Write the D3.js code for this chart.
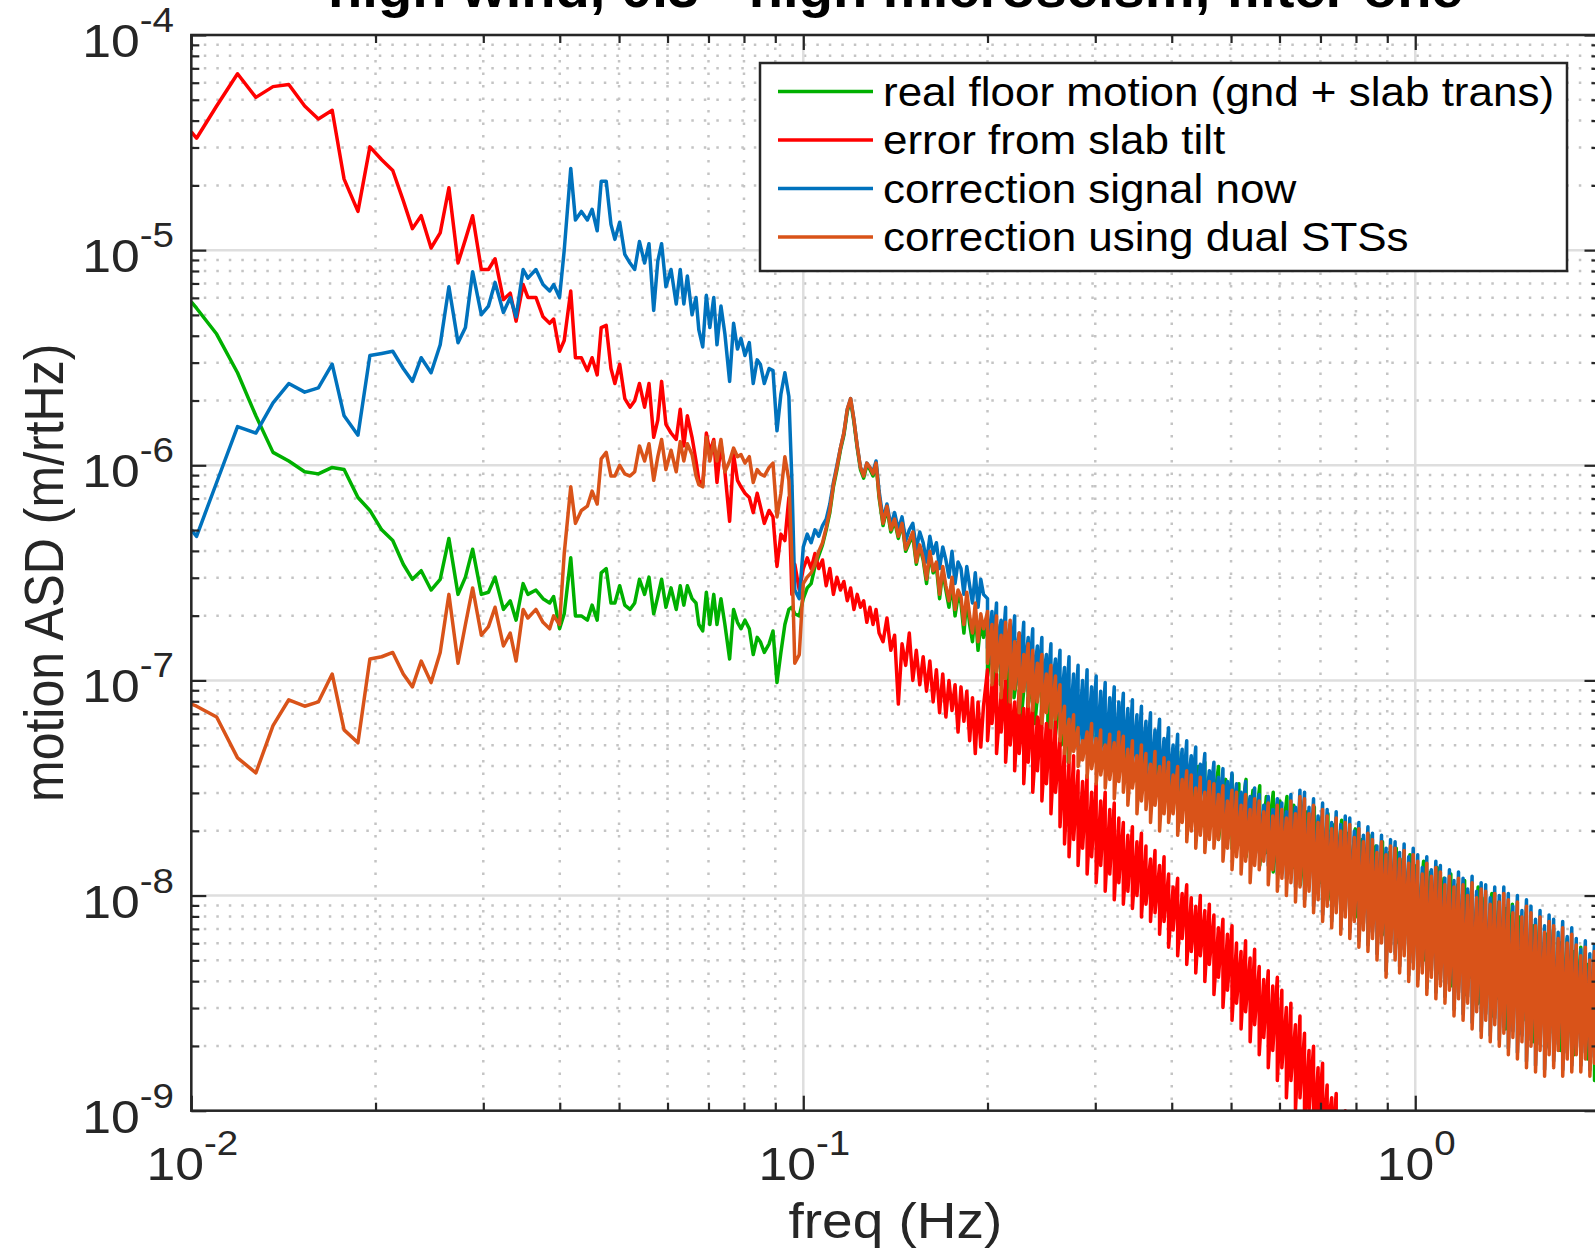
<!DOCTYPE html>
<html>
<head>
<meta charset="utf-8">
<script src="https://cdn.jsdelivr.net/npm/d3@7/dist/d3.min.js"></script>
<style>
  body { margin: 0; background: #fff; }
  svg { display: block; }
  text { font-family: "Liberation Sans", Arial, Helvetica, sans-serif; fill: #262626; }
</style>
</head>
<body>
<script>
'use strict';

// ---- data (values are log10 of ASD in m/rtHz) ----
const seriesNames = ['real floor motion (gnd + slab trans)', 'error from slab tilt',
                     'correction signal now', 'correction using dual STSs'];
const seriesColors = ['#00b000', '#ff0000', '#0072bd', '#d95319'];
const titleText = 'high wind, 0.3 - high microseism, filter one';
const xTickExp = [-2, -1, 0];
const yTickExp = [-9, -8, -7, -6, -5, -4];

// low band, one point per visible bin
const freqLow = [0.0100,0.0102,0.0110,0.0119,0.01275,0.0136,0.01443,0.01532,0.01613,0.01699,
  0.01777,0.01872,0.01958,0.02047,0.02134,0.0222,0.02298,0.02375,0.02465,0.02551,
  0.02636,0.02728,0.02805,0.02882,0.02978,0.03059,0.03136,0.03236,0.0332,0.03394,
  0.03485,0.03548,0.03657,0.03756,0.03851,0.03909,0.03997,0.04068,0.04169,0.04243,
  0.04339,0.04438,0.04518,0.04605,0.04675,0.04764,0.0485,0.04922,0.05012,0.05109,
  0.0521,0.05303,0.05399,0.05504,0.05596,0.05696,0.05785,0.05868,0.05964,0.0608,
  0.062,0.06294,0.0638,0.06465,0.0658,0.06679,0.0675,0.0685,0.06944,0.07036,
  0.0714,0.07227,0.07336,0.07446,0.07579,0.07693,0.07806,0.0791,0.0803,0.08162,
  0.08283,0.08407,0.08508,0.08636,0.08793,0.08923,0.09058,0.09192,0.09331,0.09472,
  0.0958,0.09685];

const greenLow = [-5.24,-5.27,-5.39,-5.57,-5.77,-5.94,-5.98,-6.03,-6.04,-6.01,
  -6.02,-6.15,-6.21,-6.30,-6.35,-6.46,-6.53,-6.49,-6.58,-6.53,
  -6.34,-6.60,-6.52,-6.39,-6.60,-6.59,-6.52,-6.67,-6.63,-6.72,
  -6.55,-6.60,-6.58,-6.62,-6.64,-6.61,-6.76,-6.69,-6.43,-6.70,
  -6.70,-6.72,-6.65,-6.72,-6.50,-6.48,-6.64,-6.64,-6.56,-6.65,
  -6.67,-6.64,-6.53,-6.60,-6.52,-6.69,-6.61,-6.53,-6.66,-6.57,
  -6.67,-6.56,-6.65,-6.56,-6.62,-6.64,-6.74,-6.77,-6.59,-6.74,
  -6.60,-6.74,-6.62,-6.74,-6.90,-6.67,-6.73,-6.76,-6.72,-6.76,
  -6.88,-6.80,-6.82,-6.87,-6.83,-6.77,-7.01,-6.87,-6.74,-6.67,
  -6.66,-6.69];

const redLow = [-4.45,-4.48,-4.33,-4.18,-4.29,-4.24,-4.23,-4.33,-4.39,-4.35,
  -4.67,-4.82,-4.52,-4.58,-4.63,-4.77,-4.90,-4.84,-4.99,-4.92,
  -4.71,-5.06,-4.95,-4.84,-5.09,-5.09,-5.04,-5.23,-5.20,-5.33,
  -5.16,-5.22,-5.22,-5.31,-5.34,-5.32,-5.47,-5.42,-5.19,-5.50,
  -5.50,-5.56,-5.50,-5.58,-5.36,-5.35,-5.55,-5.62,-5.53,-5.69,
  -5.73,-5.70,-5.62,-5.73,-5.62,-5.87,-5.79,-5.61,-5.81,-5.85,
  -5.88,-5.74,-5.91,-5.77,-5.87,-5.98,-6.07,-6.09,-5.85,-5.94,
  -5.88,-6.08,-5.90,-6.03,-6.26,-5.95,-6.07,-6.10,-6.13,-6.15,
  -6.22,-6.13,-6.19,-6.27,-6.21,-6.24,-6.47,-6.32,-6.35,-6.15,
  -6.60,-6.46];

const blueLow = [-6.30,-6.33,-6.08,-5.82,-5.85,-5.71,-5.62,-5.66,-5.64,-5.53,
  -5.77,-5.86,-5.49,-5.48,-5.47,-5.55,-5.61,-5.50,-5.57,-5.44,
  -5.17,-5.43,-5.36,-5.10,-5.30,-5.26,-5.15,-5.29,-5.22,-5.31,
  -5.09,-5.13,-5.09,-5.16,-5.19,-5.16,-5.22,-5.00,-4.62,-4.86,
  -4.82,-4.86,-4.81,-4.91,-4.68,-4.68,-4.88,-4.95,-4.87,-5.02,
  -5.06,-5.09,-4.96,-5.06,-4.97,-5.28,-5.05,-4.97,-5.17,-5.09,
  -5.25,-5.09,-5.25,-5.12,-5.30,-5.22,-5.37,-5.45,-5.21,-5.36,
  -5.22,-5.44,-5.26,-5.39,-5.61,-5.34,-5.46,-5.41,-5.49,-5.43,
  -5.62,-5.51,-5.53,-5.62,-5.55,-5.56,-5.84,-5.67,-5.57,-5.68,
  -6.07,-6.58];

const orangeLow = [-7.11,-7.12,-7.17,-7.36,-7.43,-7.21,-7.09,-7.12,-7.10,-6.97,
  -7.23,-7.29,-6.90,-6.89,-6.87,-6.97,-7.03,-6.91,-7.01,-6.87,
  -6.60,-6.92,-6.74,-6.57,-6.79,-6.75,-6.66,-6.84,-6.78,-6.91,
  -6.67,-6.71,-6.67,-6.73,-6.76,-6.70,-6.74,-6.41,-6.10,-6.27,
  -6.21,-6.19,-6.12,-6.18,-5.97,-5.94,-6.05,-6.05,-6.00,-6.04,
  -6.05,-6.03,-5.91,-5.98,-5.90,-6.07,-5.96,-5.88,-6.02,-5.93,
  -6.03,-5.89,-5.98,-5.90,-5.95,-6.05,-6.09,-6.10,-5.87,-5.98,
  -5.89,-5.98,-5.88,-6.03,-5.98,-5.92,-5.96,-5.95,-5.99,-5.96,
  -6.08,-6.02,-6.04,-6.05,-6.01,-5.99,-6.24,-6.13,-5.96,-6.07,
  -6.43,-6.92];

// mid band (microseism peak)
const freqMid = [0.0985,0.1,0.1015,0.103,0.1045,0.106,0.1075,0.109,0.1105,0.112,
  0.1135,0.115,0.1165,0.118,0.1195,0.121,0.1225,0.124,0.1255,0.127,
  0.1285,0.13,0.1315,0.133,0.135,0.137,0.139,0.141,0.143,0.145,
  0.147,0.149,0.151,0.153,0.155,0.157,0.159,0.161,0.163,0.165,
  0.167,0.169,0.171,0.173,0.175,0.177,0.179,0.181,0.183,0.185,
  0.187,0.189,0.191,0.193,0.195,0.197];

const greenMid = [-6.70,-6.62,-6.57,-6.55,-6.47,-6.42,-6.37,-6.30,-6.22,-6.10,
  -6.02,-5.93,-5.86,-5.75,-5.70,-5.80,-5.92,-6.02,-6.06,-6.00,
  -6.02,-6.05,-5.99,-6.15,-6.28,-6.20,-6.31,-6.26,-6.34,-6.27,
  -6.40,-6.36,-6.33,-6.46,-6.38,-6.44,-6.55,-6.41,-6.50,-6.47,
  -6.62,-6.49,-6.58,-6.66,-6.55,-6.70,-6.61,-6.64,-6.78,-6.62,
  -6.74,-6.82,-6.68,-6.86,-6.73,-6.80];

const redMid = [-6.58,-6.48,-6.43,-6.48,-6.41,-6.48,-6.44,-6.56,-6.48,-6.60,
  -6.52,-6.58,-6.54,-6.63,-6.57,-6.67,-6.60,-6.66,-6.63,-6.73,
  -6.66,-6.74,-6.67,-6.78,-6.82,-6.71,-6.86,-6.79,-7.11,-6.83,
  -6.93,-6.78,-7.00,-6.86,-7.02,-6.89,-7.05,-6.91,-7.10,-6.95,
  -7.15,-6.97,-7.17,-7.00,-7.14,-7.02,-7.24,-7.03,-7.19,-7.05,
  -7.28,-7.08,-7.34,-7.10,-7.31,-7.12];

const blueMid = [-6.62,-6.38,-6.32,-6.36,-6.30,-6.33,-6.28,-6.25,-6.18,-6.08,
  -6.00,-5.92,-5.85,-5.74,-5.69,-5.79,-5.91,-6.01,-6.04,-5.99,
  -6.01,-6.03,-5.98,-6.12,-6.25,-6.18,-6.28,-6.22,-6.30,-6.24,
  -6.35,-6.30,-6.27,-6.39,-6.31,-6.36,-6.45,-6.33,-6.41,-6.36,
  -6.48,-6.38,-6.44,-6.52,-6.40,-6.55,-6.45,-6.48,-6.60,-6.47,
  -6.56,-6.64,-6.50,-6.66,-6.53,-6.60];

const orangeMid = [-6.88,-6.55,-6.52,-6.50,-6.46,-6.40,-6.36,-6.29,-6.21,-6.09,
  -6.01,-5.92,-5.85,-5.74,-5.69,-5.79,-5.91,-6.01,-6.05,-5.99,
  -6.01,-6.04,-5.99,-6.14,-6.27,-6.19,-6.30,-6.25,-6.33,-6.27,
  -6.39,-6.35,-6.31,-6.45,-6.37,-6.43,-6.53,-6.40,-6.49,-6.45,
  -6.60,-6.47,-6.56,-6.63,-6.52,-6.67,-6.58,-6.61,-6.74,-6.59,
  -6.70,-6.78,-6.64,-6.82,-6.69,-6.76];

// high band: noisy, kept as top / bottom of each group of bins
const freqHi = [0.2,0.2034,0.2069,0.2105,0.2141,0.2178,0.2215,0.2253,0.2292,0.2331,
  0.2371,0.2413,0.2454,0.2496,0.2539,0.2583,0.2627,0.2672,0.2718,0.2765,
  0.2812,0.286,0.2909,0.2959,0.301,0.3062,0.3114,0.3168,0.3222,0.3278,
  0.3334,0.3391,0.345,0.3509,0.3569,0.363,0.3693,0.3756,0.3821,0.3886,
  0.3953,0.4021,0.409,0.416,0.4232,0.4305,0.4378,0.4454,0.453,0.4608,
  0.4688,0.4768,0.485,0.4933,0.5018,0.5104,0.5192,0.5281,0.5372,0.5464,
  0.5559,0.5654,0.5751,0.585,0.5951,0.6053,0.6157,0.6263,0.6371,0.648,
  0.6592,0.6705,0.682,0.6937,0.7056,0.7178,0.7301,0.7427,0.7554,0.7684,
  0.7816,0.7951,0.8088,0.8227,0.8368,0.8512,0.8658,0.8807,0.8958,0.9112,
  0.9269,0.9428,0.959,0.9755,0.9923,1.0093,1.0267,1.0443,1.0623,1.0805,
  1.0991,1.118,1.1372,1.1568,1.1767,1.1969,1.2175,1.2384,1.2597,1.2814,
  1.3033,1.3257,1.3485,1.3717,1.3953,1.4193,1.4437,1.4685,1.4938,1.5195,
  1.5455,1.5721,1.5991,1.6266,1.6546,1.683,1.712,1.7414,1.7713,1.8018,
  1.8326,1.8641,1.8962,1.9288,1.9619,1.9956,2.0299];

const orangeHiTop = [-6.68,-6.74,-6.70,-6.79,-6.73,-6.72,-6.82,-6.78,-6.88,-6.83,
  -6.86,-6.92,-6.88,-6.97,-6.93,-6.98,-7.02,-7.12,-7.18,-7.16,
  -7.22,-7.28,-7.24,-7.20,-7.27,-7.23,-7.30,-7.25,-7.29,-7.24,
  -7.26,-7.32,-7.28,-7.35,-7.30,-7.34,-7.39,-7.33,-7.40,-7.36,
  -7.38,-7.44,-7.40,-7.46,-7.42,-7.44,-7.50,-7.45,-7.52,-7.47,
  -7.48,-7.53,-7.49,-7.56,-7.51,-7.52,-7.58,-7.53,-7.60,-7.55,
  -7.56,-7.61,-7.57,-7.63,-7.58,-7.60,-7.64,-7.56,-7.62,-7.54,
  -7.55,-7.62,-7.58,-7.66,-7.60,-7.63,-7.69,-7.64,-7.70,-7.66,
  -7.67,-7.73,-7.69,-7.75,-7.71,-7.74,-7.80,-7.75,-7.81,-7.77,
  -7.78,-7.83,-7.79,-7.85,-7.81,-7.84,-7.90,-7.85,-7.91,-7.87,
  -7.89,-7.95,-7.91,-7.96,-7.92,-7.95,-8.00,-7.94,-8.01,-7.97,
  -7.98,-8.04,-7.99,-8.03,-7.99,-8.02,-8.08,-8.03,-8.10,-8.05,
  -8.08,-8.14,-8.10,-8.17,-8.12,-8.14,-8.20,-8.15,-8.22,-8.18,
  -8.23,-8.28,-8.24,-8.30,-8.26,-8.30,-8.34];
const orangeHiBot = [-6.92,-7.02,-6.96,-7.08,-6.99,-7.10,-7.04,-7.15,-7.05,-7.12,
  -7.14,-7.10,-7.20,-7.15,-7.22,-7.18,-7.28,-7.34,-7.38,-7.33,
  -7.40,-7.37,-7.45,-7.41,-7.48,-7.44,-7.50,-7.46,-7.55,-7.47,
  -7.52,-7.58,-7.50,-7.62,-7.56,-7.60,-7.66,-7.58,-7.70,-7.62,
  -7.66,-7.62,-7.72,-7.66,-7.75,-7.70,-7.78,-7.72,-7.80,-7.74,
  -7.78,-7.74,-7.84,-7.78,-7.88,-7.82,-7.90,-7.84,-7.94,-7.86,
  -7.88,-7.84,-7.95,-7.88,-7.98,-7.92,-8.00,-7.94,-8.03,-7.96,
  -8.05,-7.98,-8.08,-8.02,-8.12,-8.05,-8.15,-8.08,-8.18,-8.10,
  -8.20,-8.12,-8.24,-8.16,-8.26,-8.20,-8.30,-8.22,-8.38,-8.26,
  -8.30,-8.36,-8.28,-8.40,-8.34,-8.42,-8.36,-8.46,-8.38,-8.48,
  -8.42,-8.50,-8.44,-8.56,-8.48,-8.58,-8.50,-8.62,-8.54,-8.66,
  -8.58,-8.68,-8.60,-8.70,-8.64,-8.74,-8.66,-8.76,-8.68,-8.80,
  -8.70,-8.82,-8.72,-8.84,-8.74,-8.80,-8.72,-8.84,-8.76,-8.82,
  -8.74,-8.82,-8.76,-8.84,-8.78,-8.86,-8.80];

const blueHiTop = [-6.62,-6.68,-6.64,-6.72,-6.66,-6.74,-6.70,-6.78,-6.73,-6.80,
  -6.76,-6.84,-6.80,-6.88,-6.83,-6.90,-6.86,-6.94,-6.89,-6.97,
  -6.93,-7.00,-6.95,-7.03,-6.98,-7.05,-7.01,-7.08,-7.03,-7.10,
  -7.06,-7.13,-7.09,-7.16,-7.12,-7.19,-7.15,-7.23,-7.18,-7.27,
  -7.22,-7.30,-7.25,-7.32,-7.28,-7.35,-7.31,-7.39,-7.34,-7.42,
  -7.38,-7.45,-7.41,-7.47,-7.43,-7.48,-7.52,-7.47,-7.54,-7.50,
  -7.53,-7.58,-7.54,-7.60,-7.55,-7.57,-7.61,-7.53,-7.59,-7.51,
  -7.52,-7.59,-7.55,-7.63,-7.57,-7.60,-7.66,-7.61,-7.67,-7.63,
  -7.64,-7.70,-7.66,-7.72,-7.68,-7.71,-7.77,-7.72,-7.78,-7.74,
  -7.75,-7.80,-7.76,-7.82,-7.78,-7.81,-7.87,-7.82,-7.88,-7.84,
  -7.86,-7.92,-7.88,-7.93,-7.89,-7.92,-7.97,-7.91,-7.98,-7.94,
  -7.95,-8.01,-7.96,-8.00,-7.96,-7.99,-8.05,-8.00,-8.07,-8.02,
  -8.05,-8.11,-8.07,-8.14,-8.09,-8.11,-8.17,-8.12,-8.19,-8.15,
  -8.20,-8.25,-8.21,-8.27,-8.23,-8.27,-8.31];
const blueHiBot = [-6.85,-6.92,-6.86,-6.95,-6.90,-6.96,-6.93,-7.02,-6.98,-7.05,
  -7.02,-7.08,-7.04,-7.12,-7.07,-7.14,-7.16,-7.24,-7.28,-7.26,
  -7.32,-7.36,-7.33,-7.30,-7.37,-7.34,-7.40,-7.36,-7.41,-7.35,
  -7.38,-7.43,-7.39,-7.46,-7.41,-7.45,-7.50,-7.44,-7.52,-7.47,
  -7.50,-7.55,-7.52,-7.58,-7.54,-7.56,-7.62,-7.57,-7.64,-7.59,
  -7.62,-7.66,-7.63,-7.70,-7.65,-7.68,-7.74,-7.68,-7.78,-7.72,
  -7.80,-7.76,-7.86,-7.80,-7.90,-7.84,-7.92,-7.86,-7.96,-7.90,
  -8.02,-7.95,-8.05,-7.99,-8.09,-8.02,-8.12,-8.05,-8.15,-8.07,
  -8.17,-8.09,-8.21,-8.13,-8.23,-8.17,-8.27,-8.19,-8.35,-8.23,
  -8.27,-8.33,-8.25,-8.37,-8.31,-8.39,-8.33,-8.43,-8.35,-8.45,
  -8.39,-8.47,-8.41,-8.53,-8.45,-8.55,-8.47,-8.59,-8.51,-8.63,
  -8.55,-8.65,-8.57,-8.67,-8.61,-8.71,-8.63,-8.73,-8.65,-8.77,
  -8.67,-8.79,-8.69,-8.81,-8.71,-8.77,-8.69,-8.81,-8.73,-8.79,
  -8.71,-8.79,-8.73,-8.81,-8.75,-8.83,-8.77];

const redHiTop = [-6.95,-7.02,-6.97,-7.06,-7.00,-7.04,-7.10,-7.05,-7.13,-7.08,
  -7.10,-7.17,-7.12,-7.20,-7.16,-7.19,-7.27,-7.32,-7.38,-7.35,
  -7.42,-7.47,-7.44,-7.52,-7.48,-7.56,-7.52,-7.60,-7.57,-7.64,
  -7.66,-7.72,-7.68,-7.75,-7.71,-7.77,-7.83,-7.79,-7.86,-7.82,
  -7.90,-7.96,-7.92,-7.99,-7.95,-8.01,-8.05,-8.00,-8.07,-8.04,
  -8.09,-8.15,-8.11,-8.18,-8.14,-8.22,-8.26,-8.21,-8.29,-8.25,
  -8.33,-8.39,-8.35,-8.42,-8.38,-8.44,-8.52,-8.50,-8.60,-8.56,
  -8.64,-8.72,-8.70,-8.80,-8.78,-8.88,-8.94,-8.92,-9.02,-9.00,-9.08];
const redHiBot = [-7.28,-7.20,-7.34,-7.24,-7.38,-7.30,-7.42,-7.34,-7.48,-7.38,
  -7.52,-7.42,-7.56,-7.48,-7.62,-7.52,-7.68,-7.76,-7.82,-7.74,
  -7.86,-7.78,-7.90,-7.82,-7.94,-7.86,-7.98,-7.90,-8.02,-7.94,
  -8.04,-7.98,-8.06,-8.00,-8.10,-8.04,-8.12,-8.08,-8.18,-8.12,
  -8.24,-8.16,-8.28,-8.20,-8.32,-8.26,-8.36,-8.28,-8.40,-8.32,
  -8.46,-8.38,-8.52,-8.44,-8.58,-8.50,-8.62,-8.54,-8.68,-8.60,
  -8.74,-8.66,-8.80,-8.72,-8.86,-8.80,-8.94,-8.86,-9.00,-8.94,
  -9.06,-9.00,-9.12,-9.06,-9.16,-9.10,-9.20,-9.16,-9.24,-9.20,-9.28];

// floor motion is mostly hidden under the orange trace up high, coarser sampling
const freqHiCoarse = [0.2,0.205,0.21,0.216,0.221,0.227,0.233,0.239,0.245,0.251,
  0.258,0.264,0.271,0.278,0.286,0.293,0.301,0.308,0.316,0.325,
  0.333,0.342,0.351,0.36,0.369,0.379,0.389,0.399,0.409,0.42,
  0.431,0.442,0.453,0.465,0.477,0.49,0.502,0.515,0.529,0.543,
  0.557,0.571,0.586,0.601,0.617,0.633,0.649,0.666,0.684,0.701,
  0.72,0.738,0.758,0.777,0.798,0.818,0.84,0.862,0.884,0.907,
  0.931,0.955,0.98,1.005,1.032,1.059,1.086,1.114,1.143,1.173,
  1.204,1.235,1.267,1.3,1.334,1.369,1.405,1.441,1.479,1.517,
  1.557,1.597,1.639,1.682,1.726,1.771,1.817,1.864,1.913,1.963,2.014];
const greenHiTop = [-6.72,-6.76,-6.74,-6.82,-6.78,-6.84,-6.82,-6.90,-6.88,-6.96,
  -6.94,-7.02,-7.10,-7.14,-7.12,-7.18,-7.16,-7.20,-7.18,-7.24,
  -7.20,-7.26,-7.24,-7.30,-7.27,-7.32,-7.30,-7.35,-7.33,-7.38,
  -7.36,-7.40,-7.38,-7.43,-7.40,-7.46,-7.44,-7.48,-7.46,-7.51,
  -7.49,-7.54,-7.52,-7.56,-7.54,-7.58,-7.56,-7.61,-7.59,-7.64,
  -7.62,-7.67,-7.65,-7.71,-7.69,-7.74,-7.72,-7.77,-7.75,-7.80,
  -7.78,-7.83,-7.81,-7.86,-7.84,-7.89,-7.87,-7.92,-7.90,-7.95,
  -7.93,-7.98,-7.96,-8.01,-7.99,-8.03,-8.06,-8.04,-8.10,-8.08,
  -8.14,-8.12,-8.18,-8.16,-8.22,-8.20,-8.26,-8.24,-8.32,-8.30,-8.36];
const greenHiBot = [-6.98,-7.06,-7.02,-7.14,-7.08,-7.18,-7.12,-7.20,-7.16,-7.24,
  -7.26,-7.30,-7.38,-7.24,-7.28,-7.25,-7.32,-7.30,-7.37,-7.33,
  -7.41,-7.38,-7.47,-7.43,-7.50,-7.47,-7.56,-7.52,-7.60,-7.56,
  -7.64,-7.60,-7.68,-7.64,-7.74,-7.68,-7.78,-7.72,-7.82,-7.76,
  -7.86,-7.80,-7.89,-7.84,-7.92,-7.87,-7.95,-7.90,-7.98,-7.94,
  -8.02,-7.97,-8.06,-8.00,-8.10,-8.04,-8.14,-8.08,-8.18,-8.12,
  -8.22,-8.16,-8.26,-8.20,-8.30,-8.24,-8.36,-8.30,-8.42,-8.34,
  -8.46,-8.38,-8.50,-8.42,-8.56,-8.48,-8.62,-8.54,-8.64,-8.58,
  -8.68,-8.62,-8.70,-8.64,-8.72,-8.67,-8.74,-8.70,-8.76,-8.86,-8.90];

// ---- layout ----
const width = 1595, height = 1255;
const plot = { left: 191.3, right: 1599.5, top: 35, bottom: 1110.7 };
const stretch = 1.1; // text in the original is a little wider than its height suggests

let svg = d3.select('body').append('svg')
  .attr('width', width)
  .attr('height', height)
  .style('background', '#fff');

let xScale = d3.scaleLog().domain([0.01, 2]).range([plot.left, plot.right]);
let yScale = d3.scaleLog().domain([1e-9, 1e-4]).range([plot.bottom, plot.top]);

drawGrid();
drawSeries();
drawAxes();
makeLabels();
makeLegend();

function minorValues(scale) {
  let [lo, hi] = scale.domain();
  let out = [];
  for (let e = Math.floor(Math.log10(lo)); e <= Math.ceil(Math.log10(hi)); e++) {
    for (let m = 2; m <= 9; m++) {
      let v = m * Math.pow(10, e);
      if (v > lo && v < hi) out.push(v);
    }
  }
  return out;
}

function drawGrid() {
  let g = svg.append('g');
  let xMinor = minorValues(xScale), yMinor = minorValues(yScale);
  let xMajor = xTickExp.map((e) => Math.pow(10, e));
  let yMajor = yTickExp.map((e) => Math.pow(10, e));

  g.selectAll('.xminor').data(xMinor).enter().append('line')
    .attr('x1', (d) => xScale(d)).attr('x2', (d) => xScale(d))
    .attr('y1', plot.top).attr('y2', plot.bottom)
    .attr('stroke', '#c4c4c4').attr('stroke-width', 2.5)
    .attr('stroke-dasharray', '2.5 10');
  g.selectAll('.yminor').data(yMinor).enter().append('line')
    .attr('y1', (d) => yScale(d)).attr('y2', (d) => yScale(d))
    .attr('x1', plot.left).attr('x2', plot.right)
    .attr('stroke', '#c4c4c4').attr('stroke-width', 2.5)
    .attr('stroke-dasharray', '2.5 10');
  g.selectAll('.xmajor').data(xMajor).enter().append('line')
    .attr('x1', (d) => xScale(d)).attr('x2', (d) => xScale(d))
    .attr('y1', plot.top).attr('y2', plot.bottom)
    .attr('stroke', '#dedede').attr('stroke-width', 2.5);
  g.selectAll('.ymajor').data(yMajor).enter().append('line')
    .attr('y1', (d) => yScale(d)).attr('y2', (d) => yScale(d))
    .attr('x1', plot.left).attr('x2', plot.right)
    .attr('stroke', '#dedede').attr('stroke-width', 2.5);
}

function buildPoints(low, mid, hiFreq, hiTop, hiBot) {
  let pts = [];
  low.forEach((v, i) => pts.push({ f: freqLow[i], v: v }));
  mid.forEach((v, i) => pts.push({ f: freqMid[i], v: v }));
  hiTop.forEach((v, i) => {
    pts.push({ f: hiFreq[i], v: v });
    pts.push({ f: hiFreq[i], v: hiBot[i] });
  });
  return pts;
}

function drawSeries() {
  svg.append('clipPath').attr('id', 'plotclip')
    .append('rect')
    .attr('x', plot.left).attr('y', plot.top)
    .attr('width', plot.right - plot.left).attr('height', plot.bottom - plot.top);

  let all = [
    buildPoints(greenLow, greenMid, freqHiCoarse, greenHiTop, greenHiBot),
    buildPoints(redLow, redMid, freqHi, redHiTop, redHiBot),
    buildPoints(blueLow, blueMid, freqHi, blueHiTop, blueHiBot),
    buildPoints(orangeLow, orangeMid, freqHi, orangeHiTop, orangeHiBot)
  ];

  let line = d3.line()
    .x((d) => xScale(d.f))
    .y((d) => yScale(Math.pow(10, d.v)));

  let g = svg.append('g').attr('clip-path', 'url(#plotclip)');
  all.forEach((pts, i) => {
    g.append('path')
      .datum(pts)
      .attr('fill', 'none')
      .attr('stroke', seriesColors[i])
      .attr('stroke-width', 3.5)
      .attr('stroke-linejoin', 'round')
      .attr('d', line);
  });
}

function drawAxes() {
  let xMajor = xTickExp.map((e) => Math.pow(10, e));
  let yMajor = yTickExp.map((e) => Math.pow(10, e));
  let xMinor = minorValues(xScale), yMinor = minorValues(yScale);

  // ticks point into the plot on all four sides
  let axes = [
    [d3.axisBottom(xScale), xMajor, xMinor, 'translate(0,' + plot.bottom + ')'],
    [d3.axisTop(xScale), xMajor, xMinor, 'translate(0,' + plot.top + ')'],
    [d3.axisLeft(yScale), yMajor, yMinor, 'translate(' + plot.left + ',0)'],
    [d3.axisRight(yScale), yMajor, yMinor, 'translate(' + plot.right + ',0)']
  ];
  axes.forEach(([ax, major, minor, tr]) => {
    let g = svg.append('g').attr('transform', tr);
    g.call(ax.tickValues(major).tickSizeInner(-15).tickSizeOuter(0).tickFormat(''));
    g.append('g').call(ax.tickValues(minor).tickSizeInner(-8).tickSizeOuter(0).tickFormat(''));
    g.selectAll('.domain').remove();
    g.selectAll('line').attr('stroke', '#262626').attr('stroke-width', 2.2);
  });

  svg.append('rect')
    .attr('x', plot.left).attr('y', plot.top)
    .attr('width', plot.right - plot.left).attr('height', plot.bottom - plot.top)
    .attr('fill', 'none').attr('stroke', '#262626').attr('stroke-width', 2.5);
}

function powerLabel(px, py, exp, anchor) {
  let t = svg.append('text')
    .attr('transform', 'translate(' + px + ',' + py + ') scale(' + stretch + ',1)')
    .attr('text-anchor', anchor)
    .style('font-size', '47px');
  t.append('tspan').text('10');
  t.append('tspan').attr('dy', -25).style('font-size', '35px').text(exp);
}

function makeLabels() {
  yTickExp.forEach((e) => powerLabel(174, yScale(Math.pow(10, e)) + 22, e, 'end'));
  xTickExp.forEach((e) => powerLabel(xScale(Math.pow(10, e)) + 1, 1180, e, 'middle'));

  svg.append('text')
    .attr('transform', 'translate(' + (plot.left + plot.right) / 2 + ',1238) scale(' + stretch + ',1)')
    .attr('text-anchor', 'middle')
    .style('font-size', '50px')
    .text('freq (Hz)');

  svg.append('text')
    .attr('transform', 'translate(63,' + (plot.top + plot.bottom) / 2 + ') rotate(-90) scale(1,' + stretch + ')')
    .attr('text-anchor', 'middle')
    .style('font-size', '50px')
    .text('motion ASD (m/rtHz)');

  // the title sits above the top edge of the figure, only its lower part shows
  svg.append('text')
    .attr('transform', 'translate(' + (plot.left + plot.right) / 2 + ',7) scale(' + stretch + ',1)')
    .attr('text-anchor', 'middle')
    .style('font-size', '51px')
    .style('font-weight', 'bold')
    .style('fill', '#000')
    .text(titleText);
}

function makeLegend() {
  let box = { x: 760, y: 63, w: 807, h: 208 };
  let g = svg.append('g');
  g.append('rect')
    .attr('x', box.x).attr('y', box.y).attr('width', box.w).attr('height', box.h)
    .attr('fill', '#fff').attr('stroke', '#262626').attr('stroke-width', 2.5);

  let rows = d3.range(seriesNames.length).map((i) => 91.5 + i * 48.5);
  seriesNames.forEach((name, i) => {
    g.append('line')
      .attr('x1', 778).attr('x2', 873)
      .attr('y1', rows[i]).attr('y2', rows[i])
      .attr('stroke', seriesColors[i]).attr('stroke-width', 3.5);
    g.append('text')
      .attr('transform', 'translate(883,' + (rows[i] + 14) + ') scale(' + stretch + ',1)')
      .style('font-size', '40px')
      .style('fill', '#000')
      .text(name);
  });
}
</script>
</body>
</html>
